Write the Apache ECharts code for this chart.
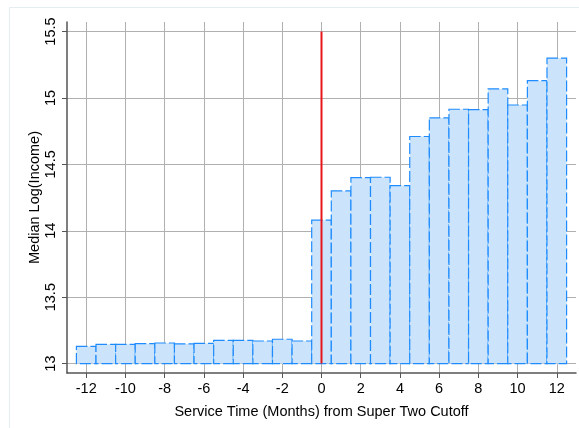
<!DOCTYPE html>
<html>
<head>
<meta charset="utf-8">
<script src="https://cdn.jsdelivr.net/npm/echarts@6/dist/echarts.min.js"></script>
<style>
  html, body { margin: 0; padding: 0; background: #fff; }
  #chart { width: 579px; height: 428px; }
</style>
</head>
<body>
<div id="chart"></div>
<script>
// months relative to the cutoff
const months = [-12, -11, -10, -9, -8, -7, -6, -5, -4, -3, -2, -1, 0, 1, 2, 3, 4, 5, 6, 7, 8, 9, 10, 11, 12]
// median log income per month
const medianLogIncome = [13.13, 13.145, 13.145, 13.15, 13.155, 13.148, 13.152, 13.175, 13.175, 13.17, 13.183, 13.17,
  14.08, 14.30, 14.40, 14.403, 14.34, 14.71, 14.85, 14.915, 14.912, 15.068, 14.947, 15.13, 15.30]
const xTicks = [-12, -10, -8, -6, -4, -2, 0, 2, 4, 6, 8, 10, 12]
const yTicks = [13, 13.5, 14, 14.5, 15, 15.5]
const baseLine = 13
const cutoffLine = [[0, 13], [0, 15.5]]

const chart = echarts.init(document.getElementById('chart'))

const fontFam = 'Liberation Sans, Arial, sans-serif'

const option = {
  animation: false,
  backgroundColor: '#fff',
  graphic: [{
    type: 'rect',
    shape: { x: 9.5, y: 7.5, width: 600, height: 440 },
    style: { fill: 'none', stroke: '#e4eef0', lineWidth: 1 },
    silent: true
  }],
  grid: { left: 67, right: 3, top: 22, bottom: 55 },
  xAxis: {
    type: 'value',
    min: -12.98,
    max: 12.98,
    name: 'Service Time (Months) from Super Two Cutoff',
    nameLocation: 'middle',
    nameGap: 31,
    nameMoveOverlap: false,
    nameTextStyle: { color: '#000', fontSize: 14.5, fontFamily: fontFam },
    axisLine: { show: true, onZero: false, lineStyle: { color: '#555', width: 1.5 } },
    axisTick: { show: true, length: 5, customValues: xTicks, lineStyle: { color: '#555' } },
    axisLabel: { customValues: xTicks, color: '#000', fontSize: 14.5, fontFamily: fontFam, margin: 8 },
    splitLine: { show: true, lineStyle: { color: '#b0b0b0', width: 1 } }
  },
  yAxis: {
    type: 'value',
    min: 12.929,
    max: 15.572,
    name: 'Median Log(Income)',
    nameLocation: 'middle',
    nameGap: 25,
    nameMoveOverlap: false,
    nameTextStyle: { color: '#000', fontSize: 14.5, fontFamily: fontFam },
    axisLine: { show: true, onZero: false, lineStyle: { color: '#555', width: 1.5 } },
    axisTick: { show: true, length: 5, customValues: yTicks, lineStyle: { color: '#555' } },
    axisLabel: { customValues: yTicks, rotate: 90, color: '#000', fontSize: 14.5, fontFamily: fontFam, margin: 9,
      formatter: v => String(v) },
    splitLine: { show: true, lineStyle: { color: '#b0b0b0', width: 1 } }
  },
  series: [
    {
      type: 'custom',
      data: months.map((m, i) => [m, medianLogIncome[i]]),
      renderItem: function (params, api) {
        const x = api.value(0)
        const y = api.value(1)
        const p0 = api.coord([x - 0.5, y])
        const p1 = api.coord([x + 0.5, baseLine])
        return {
          type: 'rect',
          shape: { x: p0[0], y: p0[1], width: p1[0] - p0[0], height: p1[1] - p0[1] },
          style: {
            fill: '#cce4fb',
            stroke: '#1e8cff',
            lineWidth: 1.2,
            lineDash: [11, 3]
          }
        }
      },
      z: 2
    },
    {
      type: 'line',
      data: cutoffLine,
      symbol: 'none',
      lineStyle: { color: '#e8161a', width: 2 },
      z: 3
    }
  ]
}

chart.setOption(option)
</script>
</body>
</html>
